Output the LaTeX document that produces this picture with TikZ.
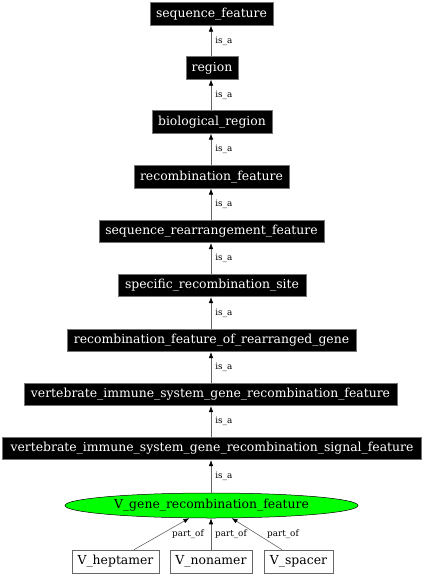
\documentclass[tikz,border=0pt]{standalone}
\usepackage{fontspec}
\setmainfont{DejaVu Serif}
\usetikzlibrary{arrows.meta,shapes.geometric,calc}
\begin{document}
\begin{tikzpicture}[x=1pt,y=-1pt,
  nfont/.style={font=\fontsize{12.4}{14}\selectfont,text height=8.8pt,text depth=2.8pt},
  bbox/.style={rectangle,fill=black,draw=black!55,line width=0.6pt,text=white,inner sep=0pt,minimum height=22.5pt,nfont},
  wbox/.style={rectangle,fill=white,draw=black!60,line width=0.6pt,inner sep=0pt,minimum height=23pt,nfont},
  gell/.style={ellipse,fill=green,draw=black,line width=0.5pt,inner sep=0pt,minimum width=293pt,minimum height=25pt,nfont},
  rel/.style={draw=black!60,line width=0.6pt,-{Latex[length=6pt,width=4.5pt,color=black]}},
  lab/.style={font=\fontsize{8.8}{10}\selectfont,inner sep=0pt,text height=6.5pt,text depth=2pt}]
\useasboundingbox (0,0) rectangle (424,576);
\node[bbox,minimum width=123pt] (n1) at (211.5,14) {sequence\_feature};
\node[bbox,minimum width=52pt] (n2) at (212,68) {region};
\node[bbox,minimum width=120pt] (n3) at (212,122) {biological\_region};
\node[bbox,minimum width=155pt] (n4) at (211.5,177) {recombination\_feature};
\node[bbox,minimum width=225pt] (n5) at (211.5,231.5) {sequence\_rearrangement\_feature};
\node[bbox,minimum width=188pt] (n6) at (212,285.5) {specific\_recombination\_site};
\node[bbox,minimum width=289pt] (n7) at (211.5,340.5) {recombination\_feature\_of\_rearranged\_gene};
\node[bbox,minimum width=373pt] (n8) at (210.5,394.5) {vertebrate\_immune\_system\_gene\_recombination\_feature};
\node[bbox,minimum width=419pt] (n9) at (212,448.5) {vertebrate\_immune\_system\_gene\_recombination\_signal\_feature};
\node[gell] (ell) at (211.5,505.5) {V\_gene\_recombination\_feature};
\node[wbox,minimum width=87pt] (hep) at (115.5,561.5) {V\_heptamer};
\node[wbox,minimum width=82pt] (non) at (211,561.5) {V\_nonamer};
\node[wbox,minimum width=69pt] (spa) at (298.5,561.5) {V\_spacer};
% is_a edges
\foreach \a/\b in {n1/n2,n2/n3,n3/n4,n4/n5,n5/n6,n6/n7,n7/n8,n8/n9}{
  \draw[rel] (211,0 |- \b.north) -- (211,0 |- \a.south)
     node[lab,midway,anchor=west,xshift=4pt] {is\_a};
}
\draw[rel] (211,0 |- ell.north) -- (211,0 |- n9.south)
     node[lab,midway,anchor=west,xshift=4pt] {is\_a};
% part_of edges
\coordinate (hs) at ($(hep.north)+(18.5,0)$);
\coordinate (ss) at ($(spa.north)+(-16.5,0)$);
\draw[rel] (hs) -- (ell);
\draw[rel] (211,0 |- non.north) -- (211,0 |- ell.south);
\draw[rel] (ss) -- (ell);
\node[lab,anchor=west] (l1) at (172,534) {part\_of};
\node[lab,anchor=west] (l2) at (215,534) {part\_of};
\node[lab,anchor=west] (l3) at (267,534) {part\_of};
\end{tikzpicture}
\end{document}
